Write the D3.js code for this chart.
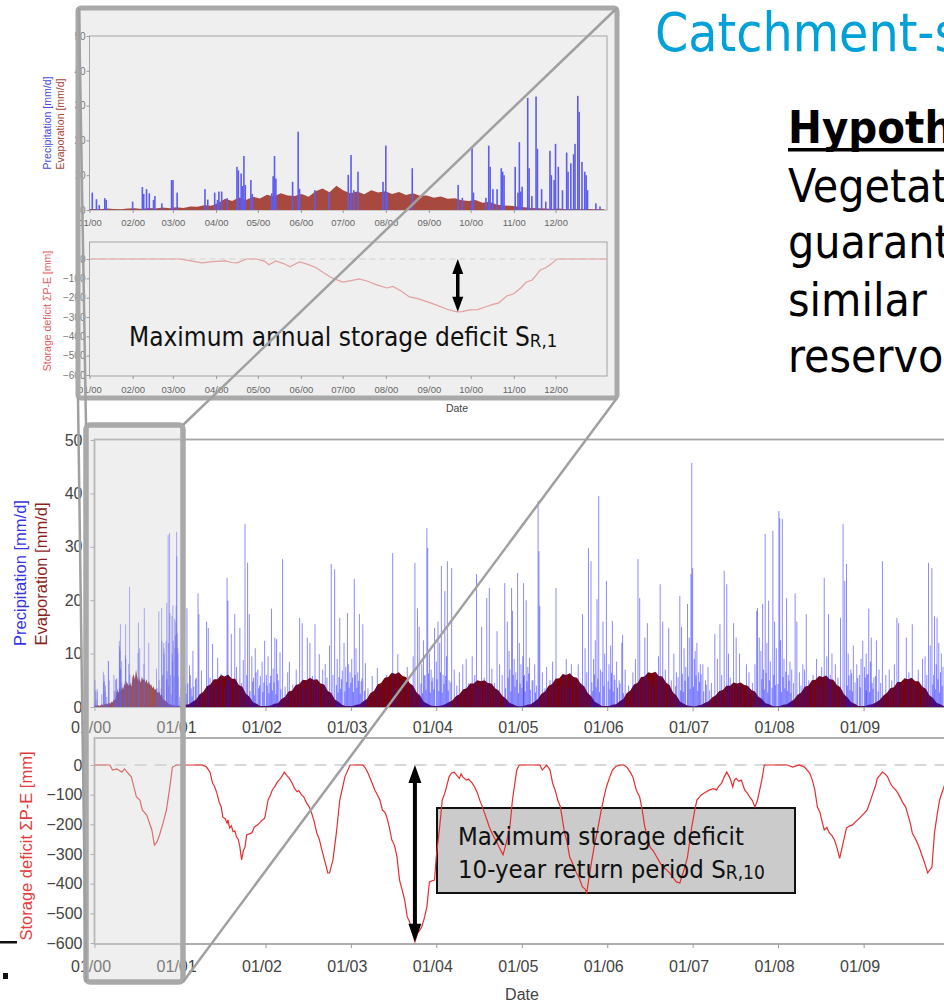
<!DOCTYPE html>
<html>
<head>
<meta charset="utf-8">
<script src="https://cdn.jsdelivr.net/npm/d3@7"></script>
<style>
  body { margin: 0; background: #fff; }
  svg { display: block; }
</style>
</head>
<body>
<svg id="chart" width="944" height="1003"></svg>
<script>
// ------------------------------------------------------------------
// DATA
// ------------------------------------------------------------------
const yearTicks = [2000, 2001, 2002, 2003, 2004, 2005, 2006, 2007, 2008, 2009];
const precipTicks = [0, 10, 20, 30, 40, 50];
const deficitTicks = [0, -100, -200, -300, -400, -500, -600];

// Year 2000 (inset) precipitation: [day of year, mm/d]
const precip2000 = [
  [2,5.0],[5,3.1],[7,1.4],[11,3.4],[12,2.9],[31,2.4],[38,6.6],[39,4.6],[41,6.0],[43,4.8],
  [46,2.9],[47,4.0],[52,1.9],[59,8.6],[60,8.6],[63,5.0],[83,6.0],[85,3.0],[90,5.0],[92,2.9],
  [93,5.3],[95,5.3],[99,3.4],[106,12.4],[107,11.4],[109,10.5],[110,6.9],[111,15.5],[112,7.2],
  [116,8.6],[117,4.6],[131,4.8],[132,9.7],[133,15.5],[134,9.0],[146,8.1],[150,22.5],[151,6.1],
  [162,5.7],[172,5.0],[186,10.1],[188,15.8],[190,5.7],[193,11.0],[211,8.1],[213,18.5],[214,5.0],
  [232,12.0],[265,7.2],[268,3.5],[275,17.9],[276,5.0],[285,3.5],[287,18.5],[288,12.4],[290,6.0],
  [293,6.0],[296,12.0],[297,11.0],[298,10.0],[306,12.4],[308,5.0],[309,19.5],[310,5.3],[311,6.7],
  [315,32.2],[316,12.0],[318,4.0],[321,32.6],[322,17.6],[325,6.0],[328,2.4],[331,17.0],[332,10.0],
  [334,8.6],[335,19.0],[337,12.4],[340,5.7],[343,16.5],[344,11.0],[346,13.4],[348,16.0],[349,19.0],
  [351,32.8],[352,28.2],[354,13.8],[356,11.0],[357,10.0],[358,5.7],[364,1.9],[367,1.0]
];

// Year 2000 evaporation, 5-day values (mm/d)
const evap2000 = [
  0.3,0.2,0.4,0.3,0.2,0.4, 0.5,0.3,0.6,0.4,0.7,0.5, 0.8,0.6,1.0,0.9,1.4,1.2,
  2.0,3.2,2.6,3.6,2.9,3.8, 3.3,4.4,3.9,4.8,4.2,4.0, 4.6,3.8,5.4,6.2,5.1,7.0,
  5.6,4.8,5.3,4.5,5.7,5.0, 5.4,4.6,5.2,4.3,4.8,4.1, 4.2,3.5,3.9,3.2,3.4,2.8,
  2.6,2.9,2.1,2.4,1.6,1.3, 1.2,1.0,0.8,0.6,0.5,0.4, 0.3,0.4,0.2,0.3,0.2,0.3,0.2
];

// Evaporation 2001-2009, half-monthly values (mm/d), one row per year
const evapHalfMonth = [
  [0.2,0.4,0.5,1.0,1.4,2.4,2.8,3.9,4.2,5.2,5.2,6.0,5.7,6.1,5.3,5.3,4.1,3.8,2.5,1.9,0.9,0.6,0.2,0.2],
  [0.2,0.3,0.6,0.7,1.5,1.9,2.9,3.1,4.1,4.3,5.1,5.0,5.5,5.1,5.2,4.4,4.2,3.0,2.6,1.4,1.0,0.4,0.2,0.2],
  [0.2,0.4,0.5,1.1,1.5,2.6,3.0,4.2,4.5,5.5,5.6,6.4,6.2,6.5,5.8,5.6,4.5,4.0,2.7,2.1,1.0,0.6,0.3,0.2],
  [0.2,0.3,0.5,0.9,1.2,2.0,2.4,3.3,3.5,4.4,4.4,5.0,4.8,5.0,4.5,4.4,3.5,3.1,2.1,1.6,0.8,0.5,0.2,0.1],
  [0.2,0.4,0.5,1.0,1.5,2.5,2.9,4.0,4.3,5.3,5.4,6.2,6.0,6.3,5.6,5.5,4.4,3.9,2.6,2.0,1.0,0.6,0.2,0.2],
  [0.2,0.4,0.5,1.1,1.5,2.6,3.1,4.2,4.5,5.6,5.7,6.5,6.3,6.6,5.8,5.7,4.6,4.1,2.7,2.1,1.0,0.6,0.3,0.2],
  [0.1,0.3,0.4,0.8,1.1,1.8,2.2,3.0,3.2,4.0,4.0,4.6,4.4,4.6,4.1,4.0,3.2,2.9,1.9,1.5,0.7,0.5,0.2,0.1],
  [0.2,0.4,0.5,1.0,1.4,2.3,2.7,3.8,4.0,5.0,5.1,5.8,5.6,5.9,5.2,5.1,4.1,3.7,2.4,1.8,0.9,0.6,0.2,0.2],
  [0.2,0.4,0.5,0.9,1.3,2.1,2.6,3.5,3.7,4.7,4.7,5.4,5.2,5.5,4.8,4.8,3.8,3.4,2.2,1.7,0.8,0.5,0.2,0.2]
];

// Precipitation 2001-2009, main events: [decimal year, mm/d]
const precipMain = [
  [2001.02,6.5],[2001.03,9.0],[2001.05,35.4],[2001.06,4.2],[2001.08,18.5],[2001.11,7.8],[2001.13,3.5],[2001.15,10.5],
  [2001.18,5.2],[2001.21,21.3],[2001.22,17.4],[2001.25,6.8],[2001.28,3.0],[2001.31,16.0],[2001.33,14.8],[2001.35,5.5],
  [2001.38,11.8],[2001.42,4.0],[2001.44,9.2],[2001.48,6.2],[2001.52,3.8],[2001.55,24.2],[2001.56,19.9],[2001.58,5.0],
  [2001.60,13.7],[2001.64,17.4],[2001.66,7.5],[2001.70,14.8],[2001.72,4.5],[2001.74,8.8],[2001.76,34.3],[2001.78,6.0],
  [2001.79,27.0],[2001.81,17.4],[2001.84,9.5],[2001.86,5.5],[2001.88,11.0],[2001.91,7.0],[2001.93,4.0],[2001.96,8.5],
  [2001.99,12.4],
  [2002.01,6.0],[2002.03,9.5],[2002.05,4.5],[2002.07,18.4],[2002.09,7.2],[2002.11,13.0],[2002.13,12.7],[2002.15,5.0],
  [2002.17,10.2],[2002.20,27.7],[2002.23,3.8],[2002.26,6.5],[2002.28,8.5],[2002.32,4.2],[2002.36,7.0],[2002.40,16.7],
  [2002.43,15.7],[2002.45,3.5],[2002.49,13.0],[2002.52,12.0],[2002.55,5.8],[2002.58,15.5],[2002.61,4.0],[2002.63,9.9],
  [2002.67,7.0],[2002.70,8.0],[2002.72,5.5],[2002.75,11.5],[2002.77,26.8],[2002.79,6.0],[2002.81,25.8],[2002.84,9.0],
  [2002.87,16.7],[2002.89,5.2],[2002.92,12.0],[2002.94,7.5],[2002.96,17.6],[2002.97,8.0],[2002.99,6.5],
  [2003.01,9.0],[2003.02,5.5],[2003.04,24.0],[2003.06,11.0],[2003.08,6.5],[2003.10,17.4],[2003.12,4.8],[2003.14,15.5],
  [2003.17,8.2],[2003.20,3.5],[2003.25,5.8],[2003.31,7.3],[2003.35,4.0],[2003.42,6.0],[2003.49,28.8],[2003.52,3.2],
  [2003.55,9.9],[2003.60,5.0],[2003.66,7.5],[2003.70,4.2],[2003.73,9.5],[2003.75,27.0],[2003.78,18.5],[2003.80,15.0],
  [2003.83,8.0],[2003.85,12.5],[2003.87,6.0],[2003.89,33.5],[2003.90,29.8],[2003.92,10.0],[2003.94,7.0],[2003.96,5.5],
  [2003.98,14.8],
  [2004.00,8.5],[2004.02,16.0],[2004.04,12.0],[2004.06,26.4],[2004.08,6.0],[2004.10,21.7],[2004.12,9.5],[2004.13,27.3],
  [2004.15,5.0],[2004.18,26.0],[2004.21,7.0],[2004.24,4.0],[2004.27,6.5],[2004.31,8.0],[2004.35,9.0],[2004.38,4.5],
  [2004.42,9.5],[2004.45,6.0],[2004.47,24.9],[2004.50,3.8],[2004.53,15.0],[2004.56,5.5],[2004.59,20.4],[2004.62,22.3],
  [2004.65,7.2],[2004.68,4.5],[2004.71,14.2],[2004.74,8.0],[2004.77,6.0],[2004.80,23.2],[2004.83,16.0],[2004.85,10.5],
  [2004.86,7.0],[2004.88,22.3],[2004.89,18.0],[2004.91,9.0],[2004.93,6.5],[2004.95,25.1],[2004.97,12.0],[2004.99,8.0],
  [2005.01,9.5],[2005.02,23.2],[2005.03,6.0],[2005.05,20.0],[2005.07,7.5],[2005.09,9.2],[2005.12,5.0],[2005.15,8.0],
  [2005.17,4.0],[2005.19,38.6],[2005.20,29.2],[2005.21,18.9],[2005.24,6.5],[2005.27,3.5],[2005.29,7.5],[2005.33,5.0],
  [2005.36,8.5],[2005.40,22.3],[2005.45,4.0],[2005.49,6.0],[2005.52,9.0],[2005.55,3.5],[2005.58,8.0],[2005.62,5.5],
  [2005.66,8.0],[2005.69,4.5],[2005.71,17.4],[2005.74,11.0],[2005.76,6.5],[2005.78,29.8],[2005.81,27.3],[2005.84,9.0],
  [2005.86,12.5],[2005.88,20.2],[2005.90,39.5],[2005.92,7.0],[2005.95,16.0],[2005.97,10.0],[2005.99,23.6],
  [2006.02,8.0],[2006.04,11.5],[2006.06,16.1],[2006.08,6.0],[2006.11,8.5],[2006.14,5.0],[2006.17,12.0],[2006.18,13.5],
  [2006.21,7.0],[2006.25,4.0],[2006.30,6.5],[2006.33,9.0],[2006.36,27.7],[2006.38,20.4],[2006.41,5.5],[2006.44,13.0],
  [2006.47,15.7],[2006.50,5.0],[2006.53,4.0],[2006.57,6.5],[2006.60,9.5],[2006.62,23.0],[2006.65,16.0],[2006.68,7.0],
  [2006.72,14.8],[2006.75,5.0],[2006.78,10.0],[2006.81,6.5],[2006.85,20.8],[2006.87,15.0],[2006.90,11.0],[2006.92,7.5],
  [2006.94,19.3],[2006.96,13.0],[2006.98,24.9],[2006.99,45.7],
  [2007.00,26.0],[2007.02,9.0],[2007.03,10.5],[2007.05,12.0],[2007.07,6.5],[2007.09,8.0],[2007.12,8.0],[2007.15,5.0],
  [2007.18,7.5],[2007.22,4.5],[2007.26,13.7],[2007.29,9.0],[2007.32,15.5],[2007.34,6.0],[2007.37,25.5],[2007.40,23.0],
  [2007.42,10.0],[2007.44,5.5],[2007.48,15.7],[2007.51,13.0],[2007.55,10.0],[2007.58,4.0],[2007.63,8.0],[2007.66,6.5],
  [2007.70,4.5],[2007.73,8.0],[2007.75,18.0],[2007.76,18.5],[2007.78,13.0],[2007.80,10.5],[2007.82,19.3],[2007.83,7.0],
  [2007.85,32.4],[2007.87,12.0],[2007.89,19.9],[2007.91,8.5],[2007.94,33.0],[2007.96,16.0],[2007.98,11.0],
  [2008.01,36.7],[2008.02,35.4],[2008.03,12.5],[2008.05,35.2],[2008.07,9.0],[2008.10,20.4],[2008.12,6.0],[2008.14,8.5],
  [2008.16,7.0],[2008.18,4.5],[2008.20,21.3],[2008.22,16.0],[2008.25,6.5],[2008.27,4.0],[2008.29,8.0],[2008.31,7.0],
  [2008.33,17.4],[2008.36,5.0],[2008.41,6.0],[2008.45,9.0],[2008.48,4.0],[2008.51,7.5],[2008.54,24.2],[2008.57,9.5],
  [2008.59,17.4],[2008.61,6.0],[2008.63,10.0],[2008.67,8.0],[2008.70,5.5],[2008.73,16.7],[2008.76,34.3],[2008.78,23.6],
  [2008.80,26.8],[2008.82,10.0],[2008.85,7.0],[2008.88,11.5],[2008.92,8.0],[2008.95,6.0],[2008.97,9.0],[2008.99,12.4],
  [2009.01,7.5],[2009.03,10.0],[2009.04,6.0],[2009.06,18.4],[2009.08,8.5],[2009.09,13.0],[2009.12,5.5],[2009.15,12.5],
  [2009.18,7.0],[2009.20,4.5],[2009.22,27.3],[2009.26,6.0],[2009.30,7.0],[2009.33,5.0],[2009.36,8.0],[2009.39,16.7],
  [2009.41,15.7],[2009.45,4.5],[2009.50,13.0],[2009.53,6.5],[2009.57,15.5],[2009.60,4.0],[2009.64,7.0],[2009.69,9.0],
  [2009.72,9.5],[2009.74,6.0],[2009.76,27.0],[2009.78,11.5],[2009.80,26.0],[2009.83,17.0],[2009.85,8.0],[2009.86,16.7],
  [2009.88,12.0],[2009.91,10.0],[2009.93,7.5],[2009.95,10.5],[2009.98,8.0]
];

// Precipitation 2001-2009, light winter rain days: [decimal year, mm/d]
const precipLight = [
  [2001.01,3.2],[2001.04,5.0],[2001.07,2.5],[2001.09,4.4],[2001.12,6.0],[2001.14,2.0],[2001.16,3.8],[2001.19,5.5],
  [2001.82,3.0],[2001.85,4.8],[2001.87,2.2],[2001.89,6.5],[2001.92,3.5],[2001.94,5.8],[2001.97,2.8],[2001.98,4.6],
  [2002.02,4.0],[2002.04,2.6],[2002.06,5.8],[2002.08,3.1],[2002.10,4.6],[2002.12,2.4],[2002.14,6.2],[2002.18,3.3],
  [2002.83,4.1],[2002.85,2.7],[2002.86,5.6],[2002.88,3.4],[2002.90,6.8],[2002.93,2.9],[2002.95,4.7],[2002.98,3.6],
  [2003.00,4.5],[2003.03,2.8],[2003.05,6.0],[2003.07,3.6],[2003.09,4.9],[2003.11,2.5],[2003.13,5.4],[2003.16,3.0],
  [2003.82,4.4],[2003.84,2.6],[2003.86,5.9],[2003.88,3.2],[2003.91,6.3],[2003.93,2.7],[2003.95,4.8],[2003.97,3.3],
  [2004.01,5.2],[2004.03,3.0],[2004.05,6.5],[2004.07,2.7],[2004.09,4.3],[2004.11,5.8],[2004.14,3.1],[2004.17,4.6],
  [2004.81,3.5],[2004.84,5.5],[2004.87,2.9],[2004.90,6.0],[2004.92,3.8],[2004.94,5.1],[2004.96,2.6],[2004.98,4.4],
  [2005.00,3.6],[2005.02,5.7],[2005.04,2.9],[2005.06,4.8],[2005.08,6.3],[2005.10,3.2],[2005.13,5.0],[2005.16,2.7],
  [2005.82,4.6],[2005.83,3.0],[2005.85,6.1],[2005.87,3.7],[2005.89,5.3],[2005.91,2.8],[2005.94,6.6],[2005.96,3.9],
  [2006.01,4.8],[2006.03,3.3],[2006.05,6.4],[2006.07,2.9],[2006.09,5.1],[2006.12,3.6],[2006.15,4.4],[2006.19,2.6],
  [2006.80,3.9],[2006.83,5.6],[2006.86,3.1],[2006.88,6.2],[2006.89,2.8],[2006.91,4.9],[2006.95,5.7],[2006.97,3.4],
  [2007.01,3.8],[2007.04,5.9],[2007.06,3.0],[2007.08,4.7],[2007.10,6.1],[2007.13,2.9],[2007.16,4.2],[2007.20,3.1],
  [2007.81,5.2],[2007.84,3.3],[2007.86,6.4],[2007.88,2.7],[2007.90,5.0],[2007.93,3.6],[2007.95,6.0],[2007.97,4.1],
  [2008.00,4.3],[2008.04,2.8],[2008.06,5.6],[2008.08,3.5],[2008.09,6.6],[2008.11,3.0],[2008.13,4.9],[2008.15,2.6],
  [2008.81,4.0],[2008.83,5.9],[2008.84,3.2],[2008.86,6.3],[2008.87,2.9],[2008.90,4.6],[2008.93,5.4],[2008.96,3.7],
  [2009.02,5.5],[2009.03,3.1],[2009.05,6.2],[2009.07,2.8],[2009.10,4.5],[2009.11,3.4],[2009.14,5.8],[2009.17,2.9],
  [2009.81,4.2],[2009.82,6.0],[2009.84,3.3],[2009.87,5.2],[2009.89,2.7],[2009.90,6.5],[2009.92,3.9],[2009.97,5.0]
];

// Storage deficit, inset year 2000: [day of year, mm]
const deficit2000 = [
  [0,0],[20,0],[40,0],[65,0],[72,-8],[81,-20],[88,-14],[98,-10],[102,-18],[106,-20],[113,0],[120,0],
  [126,-12],[129,-30],[134,-10],[140,-25],[144,-40],[151,-15],[157,-28],[163,-45],[168,-70],[173,-93],
  [178,-108],[182,-119],[188,-112],[194,-103],[200,-115],[207,-135],[214,-150],[218,-142],[224,-165],
  [230,-196],[236,-205],[243,-222],[250,-240],[257,-260],[264,-273],[268,-272],[273,-263],[279,-262],
  [285,-247],[290,-235],[294,-228],[300,-191],[305,-180],[310,-150],[314,-119],[318,-110],[321,-85],
  [324,-57],[328,-45],[332,-25],[336,0],[372,0]
];

// Storage deficit 2000-2009: [decimal year, mm]
const deficitMain = [
  [2000.00,0],[2000.18,0],[2000.21,-17],[2000.26,-13],[2000.32,-24],[2000.35,-13],[2000.39,-27],[2000.43,-40],
  [2000.49,-108],[2000.53,-118],[2000.56,-152],[2000.61,-169],[2000.67,-219],[2000.70,-270],[2000.73,-259],
  [2000.76,-236],[2000.80,-196],[2000.84,-152],[2000.88,-74],[2000.91,-7],[2000.96,0],
  [2001.26,0],[2001.31,-7],[2001.35,-24],[2001.38,-61],[2001.40,-70],[2001.43,-94],[2001.46,-128],[2001.48,-140],
  [2001.50,-175],[2001.53,-182],[2001.55,-196],[2001.56,-185],[2001.58,-212],[2001.60,-205],[2001.62,-225],
  [2001.64,-222],[2001.66,-242],[2001.68,-250],[2001.70,-276],[2001.72,-320],[2001.74,-290],[2001.76,-276],
  [2001.78,-236],[2001.81,-232],[2001.84,-229],[2001.87,-209],[2001.90,-203],[2001.93,-196],[2001.96,-186],
  [2001.99,-180],[2002.01,-150],[2002.03,-118],[2002.06,-100],[2002.08,-84],[2002.11,-72],[2002.14,-57],
  [2002.17,-48],[2002.20,-34],[2002.22,-24],[2002.25,-36],[2002.28,-45],[2002.31,-60],[2002.34,-79],[2002.37,-90],
  [2002.39,-86],[2002.42,-100],[2002.45,-108],[2002.48,-128],[2002.51,-140],[2002.54,-162],[2002.57,-190],
  [2002.60,-229],[2002.63,-250],[2002.66,-286],[2002.70,-330],[2002.73,-364],[2002.75,-364],[2002.79,-320],
  [2002.83,-229],[2002.87,-118],[2002.90,-80],[2002.93,-40],[2002.99,0],
  [2003.14,0],[2003.17,-10],[2003.20,-27],[2003.24,-55],[2003.28,-84],[2003.31,-100],[2003.34,-118],[2003.37,-152],
  [2003.40,-160],[2003.42,-175],[2003.45,-210],[2003.48,-253],[2003.51,-270],[2003.54,-310],[2003.57,-388],
  [2003.60,-420],[2003.63,-455],[2003.66,-512],[2003.69,-530],[2003.71,-556],[2003.75,-596],[2003.78,-567],
  [2003.80,-560],[2003.83,-546],[2003.86,-516],[2003.89,-479],[2003.92,-394],[2003.95,-390],[2003.98,-388],
  [2004.00,-310],[2004.04,-209],[2004.07,-118],[2004.10,-95],[2004.12,-74],[2004.15,-40],[2004.18,-27],
  [2004.21,-24],[2004.24,-35],[2004.27,-45],[2004.29,-30],[2004.31,-40],[2004.35,-51],[2004.38,-48],[2004.42,-61],
  [2004.45,-75],[2004.48,-94],[2004.51,-120],[2004.54,-142],[2004.58,-175],[2004.62,-209],[2004.66,-235],
  [2004.71,-263],[2004.74,-280],[2004.78,-303],[2004.82,-260],[2004.86,-209],[2004.89,-118],[2004.94,-17],[2004.97,0],
  [2005.21,0],[2005.24,-17],[2005.29,0],[2005.33,-17],[2005.36,-61],[2005.39,-85],[2005.42,-118],[2005.45,-140],
  [2005.47,-175],[2005.50,-229],[2005.53,-260],[2005.56,-310],[2005.60,-335],[2005.64,-364],[2005.67,-380],
  [2005.71,-411],[2005.74,-418],[2005.76,-431],[2005.77,-411],[2005.82,-320],[2005.85,-270],[2005.88,-229],
  [2005.93,-152],[2005.96,-110],[2005.99,-74],[2006.03,-40],[2006.06,-17],[2006.10,-5],[2006.15,0],[2006.19,0],
  [2006.23,-7],[2006.27,-25],[2006.30,-40],[2006.34,-84],[2006.38,-108],[2006.41,-152],[2006.44,-209],[2006.47,-240],
  [2006.50,-276],[2006.54,-290],[2006.58,-310],[2006.62,-330],[2006.65,-344],[2006.69,-352],[2006.73,-364],
  [2006.77,-380],[2006.81,-394],[2006.85,-398],[2006.88,-370],[2006.91,-344],[2006.94,-310],[2006.99,-209],
  [2007.02,-160],[2007.05,-118],[2007.10,-101],[2007.15,-92],[2007.20,-84],[2007.24,-80],[2007.28,-84],[2007.31,-70],
  [2007.34,-61],[2007.37,-40],[2007.40,-24],[2007.43,-40],[2007.45,-55],[2007.47,-74],[2007.49,-50],[2007.51,-45],
  [2007.54,-55],[2007.57,-51],[2007.61,-84],[2007.64,-95],[2007.67,-108],[2007.70,-120],[2007.73,-142],[2007.76,-118],
  [2007.81,-51],[2007.84,0],[2008.11,0],[2008.17,-7],[2008.25,0],[2008.31,-7],[2008.37,-27],[2008.40,-50],
  [2008.43,-84],[2008.46,-142],[2008.49,-160],[2008.51,-185],[2008.54,-219],[2008.57,-210],[2008.60,-229],
  [2008.63,-238],[2008.66,-253],[2008.69,-280],[2008.72,-315],[2008.76,-263],[2008.80,-212],[2008.84,-205],
  [2008.87,-202],[2008.91,-190],[2008.95,-180],[2009.00,-165],[2009.04,-152],[2009.08,-120],[2009.11,-94],
  [2009.14,-70],[2009.16,-45],[2009.19,-35],[2009.22,-24],[2009.25,-30],[2009.28,-40],[2009.31,-60],[2009.34,-74],
  [2009.37,-82],[2009.40,-94],[2009.43,-110],[2009.46,-128],[2009.49,-140],[2009.52,-169],[2009.55,-200],
  [2009.57,-229],[2009.60,-245],[2009.63,-263],[2009.66,-285],[2009.69,-310],[2009.72,-335],[2009.75,-364],
  [2009.80,-344],[2009.83,-229],[2009.86,-170],[2009.89,-118],[2009.94,-74],[2009.99,-40]
];

// ------------------------------------------------------------------
// HELPERS
// ------------------------------------------------------------------
function decYear(v) {
  const y = Math.floor(v), s = new Date(y, 0, 1), e = new Date(y + 1, 0, 1);
  return new Date(+s + (v - y) * (e - s));
}
function day2000(d) { return new Date(+new Date(2000, 0, 1) + d * 864e5); }
const fmtMY = d3.timeFormat("%m/%y");
const SANS = "'Liberation Sans', Arial, sans-serif";
const TAHOMA = "'DejaVu Sans Condensed', 'DejaVu Sans', sans-serif";

const svg = d3.select("#chart");

// ------------------------------------------------------------------
// INSET (zoom of year 2000)
// ------------------------------------------------------------------
const xi = d3.scaleTime().domain([new Date(2000, 0, 1), new Date(2001, 0, 7)]).range([89.5, 607]);
const yPi = d3.scaleLinear().domain([0, 50]).range([210, 36]);
const yDi = d3.scaleLinear().domain([-600, 0]).range([375, 259]);
const monthTicks = d3.timeMonth.range(new Date(2000, 0, 1), new Date(2001, 0, 1));

const inset = svg.append("g");
inset.append("rect").attr("x", 78).attr("y", 8).attr("width", 539).attr("height", 390)
  .attr("fill", "#efefef");

inset.append("rect").attr("x", 89.5).attr("y", 36).attr("width", 517.5).attr("height", 174)
  .attr("fill", "none").attr("stroke", "#a3a3a3").attr("stroke-width", 1);
inset.append("rect").attr("x", 89.5).attr("y", 242).attr("width", 517.5).attr("height", 134)
  .attr("fill", "none").attr("stroke", "#a3a3a3").attr("stroke-width", 1);

const evapInset = evap2000.map((v, i) => [day2000(i * 5 + 2.5), v]);
evapInset.unshift([day2000(0), evap2000[0]]);
evapInset.push([day2000(370), evap2000[evap2000.length - 1]]);
inset.append("path").datum(evapInset)
  .attr("fill", "#a8493f")
  .attr("d", d3.area().x(d => xi(d[0])).y0(yPi(0)).y1(d => yPi(d[1])));

inset.append("g").selectAll("rect").data(precip2000).join("rect")
  .attr("x", d => xi(day2000(d[0])) - 0.8)
  .attr("width", 1.6)
  .attr("y", d => yPi(d[1]))
  .attr("height", d => yPi(0) - yPi(d[1]))
  .attr("fill", "#5c5cf2");

inset.append("line").attr("x1", 89.5).attr("x2", 607).attr("y1", yDi(0)).attr("y2", yDi(0))
  .attr("stroke", "#cfcfcf").attr("stroke-dasharray", "6,4");
inset.append("path").datum(deficit2000)
  .attr("fill", "none").attr("stroke", "#e2a0a0").attr("stroke-width", 1.2)
  .attr("d", d3.line().x(d => xi(day2000(d[0]))).y(d => yDi(d[1])));

function styleAxis(g, size, color) {
  g.select(".domain").remove();
  g.selectAll(".tick line").attr("stroke", "#999");
  g.selectAll("text").attr("font-family", SANS).attr("font-size", size).attr("fill", color);
}
const ixTop = inset.append("g").attr("transform", "translate(0,210)")
  .call(d3.axisBottom(xi).tickValues(monthTicks).tickFormat(fmtMY).tickSize(3));
styleAxis(ixTop, 9.5, "#666");
ixTop.selectAll("text").attr("y", 16).attr("dy", null);
const ixBot = inset.append("g").attr("transform", "translate(0,376)")
  .call(d3.axisBottom(xi).tickValues(monthTicks).tickFormat(fmtMY).tickSize(3));
styleAxis(ixBot, 9.5, "#666");
ixBot.selectAll("text").attr("y", 17).attr("dy", null);

const iyTop = inset.append("g").attr("transform", "translate(89.5,0)")
  .call(d3.axisLeft(yPi).tickValues(precipTicks).tickSize(3));
styleAxis(iyTop, 10, "#777");
iyTop.selectAll("text").attr("x", -4);
const iyBot = inset.append("g").attr("transform", "translate(89.5,0)")
  .call(d3.axisLeft(yDi).tickValues(deficitTicks).tickSize(3));
styleAxis(iyBot, 10, "#777");
iyBot.selectAll("text").attr("x", -4);

function rotText(g, x, y, txt, color, size) {
  g.append("text").attr("transform", `translate(${x},${y}) rotate(-90)`)
    .attr("text-anchor", "middle").attr("font-family", SANS).attr("font-size", size)
    .attr("fill", color).text(txt);
}
rotText(inset, 51, 123, "Precipitation [mm/d]", "#4848e8", 10.5);
rotText(inset, 64, 124, "Evaporation [mm/d]", "#a8443a", 10.5);
rotText(inset, 51, 311, "Storage deficit \u03A3P-E [mm]", "#e45a5a", 10.5);
inset.append("text").attr("x", 457).attr("y", 412).attr("text-anchor", "middle")
  .attr("font-family", SANS).attr("font-size", 10.5).attr("fill", "#444").text("Date");

const t1 = inset.append("text").attr("x", 129).attr("y", 346)
  .attr("font-family", TAHOMA).attr("font-size", 26).attr("fill", "#111");
t1.append("tspan").text("Maximum annual storage deficit S");
t1.append("tspan").attr("font-size", 18.5).attr("dy", 1).text("R,1");

svg.append("rect").attr("x", 78).attr("y", 8).attr("width", 539).attr("height", 390)
  .attr("rx", 3).attr("fill", "none").attr("stroke", "#a9a9a9").attr("stroke-width", 5);

// ------------------------------------------------------------------
// MAIN CHART
// ------------------------------------------------------------------
const x = d3.scaleTime().domain([new Date(2000, 0, 1), new Date(2010, 0, 1)]).range([94.5, 949]);
const yP = d3.scaleLinear().domain([0, 50]).range([707, 440]);
const yD = d3.scaleLinear().domain([-600, 0]).range([943, 765]);
const yearDates = yearTicks.map(y => new Date(y, 0, 1));

const main = svg.append("g");

main.append("rect").attr("x", 94.5).attr("y", 439.5).attr("width", 860).attr("height", 267.5)
  .attr("fill", "#fff").attr("stroke", "#a6a6a6").attr("stroke-width", 1.8);
main.append("rect").attr("x", 94.5).attr("y", 738).attr("width", 860).attr("height", 206)
  .attr("fill", "#fff").attr("stroke", "#a6a6a6").attr("stroke-width", 1.8);

const evapMain = evap2000.map((v, i) => [day2000(i * 5 + 2.5), v]);
evapHalfMonth.forEach((row, k) => row.forEach((v, i) =>
  evapMain.push([decYear(2001 + k + (i + 0.5) / 24), v])));
evapMain.unshift([new Date(2000, 0, 1), evap2000[0]]);
evapMain.push([new Date(2010, 0, 1), 0.2]);
main.append("path").datum(evapMain)
  .attr("fill", "#7a0303")
  .attr("d", d3.area().x(d => x(d[0])).y0(yP(0)).y1(d => yP(d[1])));

const precipAll = precip2000.map(d => [day2000(d[0]), d[1]])
  .concat(precipMain.map(d => [decYear(d[0]), d[1]]))
  .concat(precipLight.map(d => [decYear(d[0]), d[1]]));
main.append("g").selectAll("line").data(precipAll).join("line")
  .attr("x1", d => x(d[0])).attr("x2", d => x(d[0]))
  .attr("y1", yP(0)).attr("y2", d => yP(d[1]))
  .attr("stroke", "#1818ff").attr("stroke-opacity", 0.5).attr("stroke-width", 1);

const mxTop = main.append("g").attr("transform", "translate(0,707)")
  .call(d3.axisBottom(x).tickValues(yearDates).tickFormat(fmtMY).tickSize(4));
styleAxis(mxTop, 16, "#444");
mxTop.selectAll("text").attr("y", 26).attr("dy", null).attr("dx", -4);
const mxBot = main.append("g").attr("transform", "translate(0,944)")
  .call(d3.axisBottom(x).tickValues(yearDates).tickFormat(fmtMY).tickSize(4));
styleAxis(mxBot, 16, "#444");
mxBot.selectAll("text").attr("y", 28).attr("dy", null).attr("dx", -4);

const myTop = main.append("g").attr("transform", "translate(94.5,0)")
  .call(d3.axisLeft(yP).tickValues(precipTicks).tickSize(4));
styleAxis(myTop, 16, "#444");
myTop.selectAll("text").attr("x", -12);
const myBot = main.append("g").attr("transform", "translate(94.5,0)")
  .call(d3.axisLeft(yD).tickValues(deficitTicks).tickSize(4));
styleAxis(myBot, 16, "#444");
myBot.selectAll("text").attr("x", -12);

rotText(main, 26, 573, "Precipitation [mm/d]", "#3434e0", 16.5);
rotText(main, 47, 574, "Evaporation [mm/d]", "#8e1f1f", 16.5);
rotText(main, 32, 846, "Storage deficit \u03A3P-E [mm]", "#e23c3c", 16.5);
main.append("text").attr("x", 522).attr("y", 1000).attr("text-anchor", "middle")
  .attr("font-family", SANS).attr("font-size", 16).attr("fill", "#444").text("Date");

main.append("line").attr("x1", 94.5).attr("x2", 949).attr("y1", yD(0)).attr("y2", yD(0))
  .attr("stroke", "#cdcdcd").attr("stroke-width", 1.5).attr("stroke-dasharray", "12,8");

main.append("rect").attr("x", 437).attr("y", 808).attr("width", 358).attr("height", 85)
  .attr("fill", "#cbcbcb").attr("stroke", "#111").attr("stroke-width", 2);

main.append("path").datum(deficitMain)
  .attr("fill", "none").attr("stroke", "#e52e2e").attr("stroke-width", 1.2)
  .attr("d", d3.line().x(d => x(decYear(d[0]))).y(d => yD(d[1])));

main.append("text").attr("font-family", TAHOMA).attr("font-size", 25.5).attr("fill", "#111")
  .attr("x", 458).attr("y", 845).text("Maximum storage deficit");
const t3 = main.append("text").attr("font-family", TAHOMA).attr("font-size", 25.5).attr("fill", "#111")
  .attr("x", 458).attr("y", 878);
t3.append("tspan").text("10-year return period S");
t3.append("tspan").attr("font-size", 19).attr("dy", 1).text("R,10");

// ------------------------------------------------------------------
// SELECTION OVERLAY + CONNECTORS
// ------------------------------------------------------------------
svg.append("rect").attr("x", 86).attr("y", 425).attr("width", 97).attr("height", 557).attr("rx", 4)
  .attr("fill", "#d6d6d6").attr("fill-opacity", 0.38)
  .attr("stroke", "#a9a9a9").attr("stroke-width", 5.5);

const conn = [
  [[79, 8], [86, 425]],
  [[78, 398], [86, 982]],
  [[617, 8], [183, 425]],
  [[617, 398], [183, 982]]
];
svg.append("g").selectAll("line").data(conn).join("line")
  .attr("x1", d => d[0][0]).attr("y1", d => d[0][1])
  .attr("x2", d => d[1][0]).attr("y2", d => d[1][1])
  .attr("stroke", "#a0a0a0").attr("stroke-width", 2.5);

// ------------------------------------------------------------------
// DOUBLE ARROWS
// ------------------------------------------------------------------
function dblArrow(xp, yTop, yBot, shaft, hw, hl) {
  const g = svg.append("g").attr("fill", "#000");
  g.append("rect").attr("x", xp - shaft / 2).attr("y", yTop + hl - 1)
    .attr("width", shaft).attr("height", yBot - yTop - 2 * hl + 2);
  g.append("path").attr("d", `M${xp},${yTop} L${xp - hw / 2},${yTop + hl} L${xp + hw / 2},${yTop + hl} Z`);
  g.append("path").attr("d", `M${xp},${yBot} L${xp - hw / 2},${yBot - hl} L${xp + hw / 2},${yBot - hl} Z`);
}
const minMain = deficitMain.reduce((a, b) => (b[1] < a[1] ? b : a));
dblArrow(x(decYear(minMain[0])), yD(0), yD(minMain[1]), 4, 13, 18);
const minInset = deficit2000.reduce((a, b) => (b[1] < a[1] ? b : a));
dblArrow(xi(day2000(minInset[0])) + 1, yDi(0), yDi(minInset[1]), 3.5, 11, 15);

svg.append("rect").attr("x", 0).attr("y", 941).attr("width", 17).attr("height", 2.5).attr("fill", "#111");
svg.append("rect").attr("x", 3).attr("y", 973).attr("width", 5).attr("height", 6).attr("fill", "#111");

// ------------------------------------------------------------------
// SLIDE TEXT (right, cut at the page edge as in the source slide)
// ------------------------------------------------------------------
svg.append("text").attr("x", 655).attr("y", 51).attr("font-family", TAHOMA)
  .attr("font-size", 53).attr("fill", "#00a1d9").text("Catchment-s");
svg.append("text").attr("x", 788).attr("y", 143).attr("font-family", TAHOMA)
  .attr("font-size", 45).attr("font-weight", "bold").attr("fill", "#000").text("Hypoth");
svg.append("rect").attr("x", 788).attr("y", 148).attr("width", 160).attr("height", 3.5).attr("fill", "#000");
const bodyLines = ["Vegetat", "guarant", "similar", "reservo"];
const bodyY = [202, 258, 316, 372];
bodyLines.forEach((t, i) => svg.append("text").attr("x", 788).attr("y", bodyY[i])
  .attr("font-family", TAHOMA).attr("font-size", 46).attr("fill", "#000").text(t));
</script>
</body>
</html>
